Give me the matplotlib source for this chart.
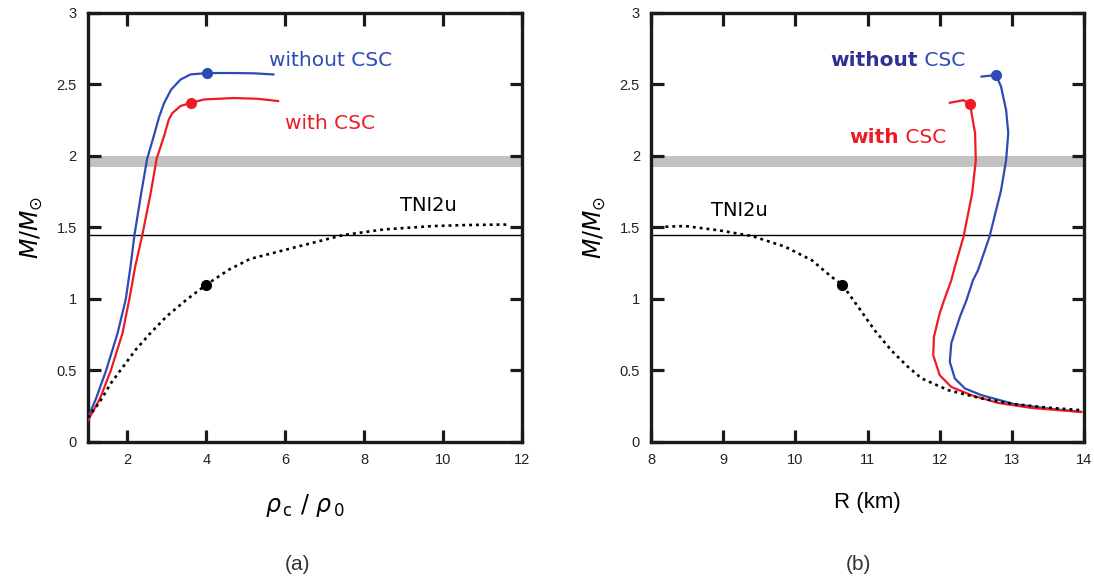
#!/usr/bin/env python3
"""Mass vs central density and mass-radius curves, with and without CSC."""

import matplotlib as mpl
import matplotlib.pyplot as plt

# (a) mass vs central density rho_c / rho_0
rho_without = [1.0, 1.2, 1.46, 1.75, 1.96, 2.08, 2.18, 2.35, 2.50, 2.67, 2.80, 2.93,
               3.11, 3.35, 3.60, 4.02, 4.7, 5.2, 5.70]
m_rho_without = [0.17, 0.30, 0.50, 0.76, 1.00, 1.23, 1.45, 1.74, 1.98, 2.14, 2.27, 2.37,
                 2.465, 2.535, 2.57, 2.58, 2.58, 2.578, 2.57]

rho_with = [1.0, 1.3, 1.58, 1.875, 2.05, 2.20, 2.38, 2.59, 2.74, 2.93, 3.05, 3.14,
            3.35, 3.60, 3.94, 4.7, 5.29, 5.82]
m_rho_with = [0.15, 0.30, 0.50, 0.76, 1.00, 1.23, 1.45, 1.74, 1.98, 2.14, 2.256, 2.30,
              2.35, 2.37, 2.395, 2.405, 2.40, 2.384]

rho_tni = [1.0, 1.3, 1.58, 1.82, 2.21, 2.58, 3.0, 3.5, 4.0, 4.58, 5.11, 5.95, 6.80,
           7.47, 8.49, 9.76, 10.6, 11.44, 11.67]
m_rho_tni = [0.17, 0.28, 0.41, 0.50, 0.645, 0.76, 0.88, 0.995, 1.10, 1.206, 1.28, 1.34,
             1.40, 1.447, 1.486, 1.51, 1.517, 1.52, 1.52]

# (b) mass-radius relation
r_without = [13.96, 13.5, 13.04, 12.58, 12.35, 12.21, 12.14, 12.16, 12.28, 12.37, 12.46,
             12.53, 12.69, 12.85, 12.92, 12.95, 12.92, 12.85, 12.78, 12.58]
m_r_without = [0.21, 0.234, 0.264, 0.327, 0.374, 0.444, 0.56, 0.69, 0.875, 0.99, 1.13,
               1.20, 1.435, 1.76, 1.97, 2.16, 2.32, 2.485, 2.566, 2.555]

r_with = [13.96, 13.27, 12.81, 12.44, 12.16, 12.0, 11.91, 11.92, 12.0, 12.06, 12.16,
          12.21, 12.33, 12.45, 12.50, 12.49, 12.42, 12.33, 12.14]
m_r_with = [0.21, 0.238, 0.273, 0.327, 0.385, 0.467, 0.607, 0.735, 0.90, 0.99, 1.13,
            1.225, 1.435, 1.74, 1.97, 2.16, 2.363, 2.39, 2.372]

r_tni = [8.20, 8.47, 8.94, 9.40, 9.86, 10.23, 10.50, 10.65, 10.87, 11.10, 11.33, 11.55,
         11.75, 12.12, 12.58, 13.04, 13.5, 13.96]
m_r_tni = [1.505, 1.51, 1.48, 1.44, 1.365, 1.27, 1.155, 1.10, 0.945, 0.78, 0.64, 0.53,
           0.444, 0.362, 0.304, 0.264, 0.24, 0.222]

# marked configurations on each curve
dot_rho = {"without": (4.02, 2.58), "with": (3.60, 2.37), "tni": (4.0, 1.10)}
dot_r = {"without": (12.78, 2.566), "with": (12.42, 2.363), "tni": (10.65, 1.10)}

band_low, band_high = 1.925, 2.0
m_line = 1.45

BLUE = "#2c4bb4"
NAVY = "#2e3192"
RED = "#ed1c24"
DOTS = (0, (1.1, 1.5))

mpl.rcParams.update(
    {
        "font.family": "sans-serif",
        "font.sans-serif": ["Liberation Sans", "DejaVu Sans"],
        "mathtext.fontset": "dejavusans",
    }
)

fig = plt.figure(figsize=(10.94, 5.81), dpi=100)
ax_a = fig.add_axes([0.0804, 0.2393, 0.3967, 0.7384])
ax_b = fig.add_axes([0.5951, 0.2393, 0.3958, 0.7384])


def style(ax, xlim, xticks):
    ax.set_xlim(*xlim)
    ax.set_ylim(0, 3)
    ax.set_xticks(xticks)
    ax.set_yticks([0, 0.5, 1, 1.5, 2, 2.5, 3])
    ax.set_yticklabels(["0", "0.5", "1", "1.5", "2", "2.5", "3"])
    ax.tick_params(direction="in", length=9, width=2.3, top=True, right=True,
                   labelsize=10.5, pad=8, labelcolor="#222222", color="#1a1a1a")
    for spine in ax.spines.values():
        spine.set_linewidth(2.4)
        spine.set_color("#1a1a1a")
    ax.axhspan(band_low, band_high, color="#c2c2c2", lw=0, zorder=1)
    ax.axhline(m_line, color="black", lw=1.0, zorder=2)
    ax.set_ylabel(r"$M/M_{\odot}$", fontsize=17, labelpad=8)


style(ax_a, (1, 12), [2, 4, 6, 8, 10, 12])
ax_a.plot(rho_without, m_rho_without, color=BLUE, lw=1.6, zorder=3)
ax_a.plot(rho_with, m_rho_with, color=RED, lw=1.6, zorder=3)
ax_a.plot(rho_tni, m_rho_tni, color="black", lw=1.9, ls=DOTS, zorder=3)
for key, color in (("without", BLUE), ("with", RED), ("tni", "black")):
    ax_a.plot(*dot_rho[key], "o", color=color, ms=7, zorder=4)
ax_a.text(5.6, 2.67, "without CSC", color=BLUE, fontsize=14.5, va="center",
          family="DejaVu Sans")
ax_a.text(6.0, 2.23, "with CSC", color=RED, fontsize=14.5, va="center",
          family="DejaVu Sans")
ax_a.text(8.91, 1.655, "TNI2u", color="black", fontsize=14, va="center",
          family="DejaVu Sans")
ax_a.set_xlabel(r"$\rho_{\,\mathrm{c}}\ /\ \rho_{\,0}$", fontsize=17, labelpad=18)

style(ax_b, (8, 14), [8, 9, 10, 11, 12, 13, 14])
ax_b.plot(r_without, m_r_without, color=BLUE, lw=1.6, zorder=3)
ax_b.plot(r_with, m_r_with, color=RED, lw=1.6, zorder=3)
ax_b.plot(r_tni, m_r_tni, color="black", lw=1.9, ls=DOTS, zorder=3)
for key, color in (("without", BLUE), ("with", RED), ("tni", "black")):
    ax_b.plot(*dot_r[key], "o", color=color, ms=7, zorder=4)
t = ax_b.text(10.49, 2.67, "without", color=NAVY, fontsize=14.5, fontweight="bold",
              va="center", family="DejaVu Sans")
ax_b.annotate(" CSC", xycoords=t, xy=(1, 0.5), va="center", color=BLUE, fontsize=14.5,
              family="DejaVu Sans")
t = ax_b.text(10.75, 2.13, "with", color=RED, fontsize=14.5, fontweight="bold",
              va="center", family="DejaVu Sans")
ax_b.annotate(" CSC", xycoords=t, xy=(1, 0.5), va="center", color=RED, fontsize=14.5,
              family="DejaVu Sans")
ax_b.text(8.83, 1.62, "TNI2u", color="black", fontsize=14, va="center",
          family="DejaVu Sans")
ax_b.set_xlabel("R (km)", fontsize=16, labelpad=18)

fig.text(297 / 1094, 1 - 564 / 581, "(a)", fontsize=15, ha="center", va="center",
         color="#333333")
fig.text(858 / 1094, 1 - 564 / 581, "(b)", fontsize=15, ha="center", va="center",
         color="#333333")

fig.savefig("out.png", dpi=100)
